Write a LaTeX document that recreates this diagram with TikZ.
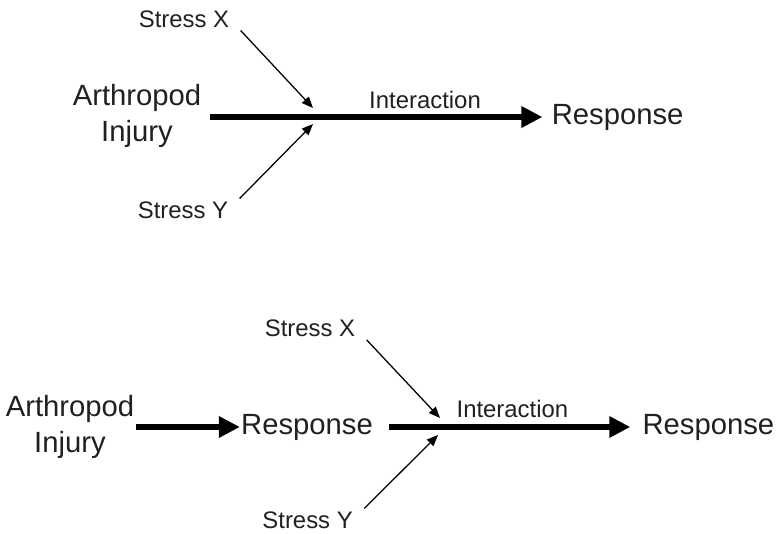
\documentclass[tikz,border=0pt]{standalone}
\usepackage{fontspec}
\setmainfont{Liberation Sans}
\usetikzlibrary{arrows.meta}
\definecolor{ink}{RGB}{35,31,32}
\begin{document}
\begin{tikzpicture}[
  bigtext/.style={font=\fontsize{20.8}{25.6}\selectfont, text=ink, inner sep=0pt, align=center},
  smalltext/.style={font=\fontsize{17}{20}\selectfont, text=ink, inner xsep=8pt, inner ysep=2pt},
  fatarrow/.style={line width=4.3pt, -{Triangle[length=15pt,width=14.5pt]}},
  stressarrow/.style={line width=0.9pt, -{Triangle[length=8pt,width=6.5pt]}}]
\useasboundingbox (0,0) rectangle (19.4,13.325);
% Injury alone, then stresses join in
\node[bigtext] (inj1) at (3.425,10.425) {Arthropod\\Injury};
\node[bigtext] (resp1) at (15.44,10.4) {Response};
\node[smalltext] (sx1) at (4.6,12.85) {Stress X};
\node[smalltext] (sy1) at (4.575,8.075) {Stress Y};
\node[smalltext] (int1) at (10.625,10.825) {Interaction};
\coordinate (j1x) at (7.825,10.625);
\coordinate (j1y) at (7.825,10.225);
\draw[fatarrow, shorten <=5.7pt, shorten >=6.4pt] (inj1.east |- resp1.west) -- (resp1.west);
\draw[stressarrow] (sx1.south east) -- (j1x);
\draw[stressarrow] (sy1.north east) -- (j1y);
% Injury gives a response first
\node[bigtext] (inj2) at (1.75,2.65) {Arthropod\\Injury};
\node[bigtext] (resp2) at (7.675,2.65) {Response};
\node[bigtext] (resp3) at (17.71,2.65) {Response};
\node[smalltext] (sx2) at (7.75,5.116) {Stress X};
\node[smalltext] (sy2) at (7.69,0.325) {Stress Y};
\node[smalltext] (int2) at (12.81,3.1) {Interaction};
\coordinate (j2x) at (11.0,2.875);
\coordinate (j2y) at (10.95,2.45);
\draw[fatarrow, shorten <=1.4pt, shorten >=0.7pt] (inj2.east |- resp2.west) -- (resp2.west);
\draw[fatarrow, shorten <=11.4pt, shorten >=8.5pt] (resp2.east) -- (resp3.west);
\draw[stressarrow] (sx2.south east) -- (j2x);
\draw[stressarrow] (sy2.north east) -- (j2y);
\end{tikzpicture}
\end{document}
